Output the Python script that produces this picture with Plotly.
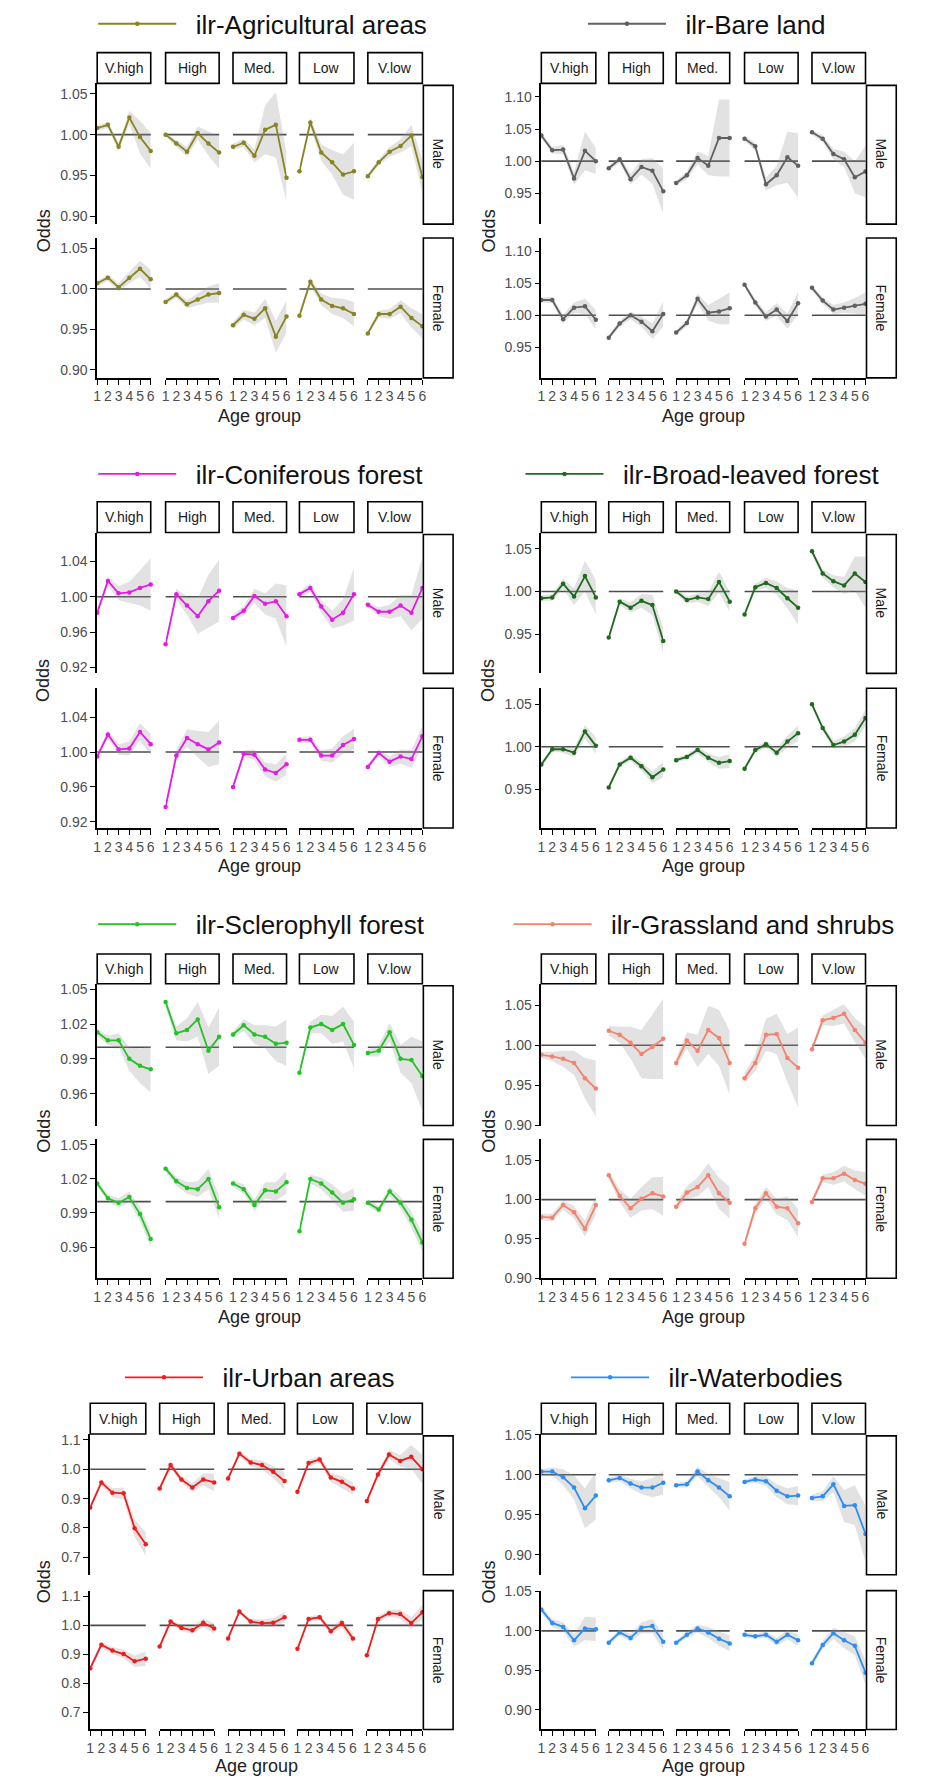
import plotly.graph_objects as go

W, H = 928, 1788
AGE = [1, 2, 3, 4, 5, 6]
AGE_LABELS = ["1", "2", "3", "4", "5", "6"]
LEVELS = ["V.high", "High", "Med.", "Low", "V.low"]
SEXES = ["Male", "Female"]

# ---------------- data (odds per age group, one list per facet) ----------------
agri_male = [[1.008, 1.012, 0.985, 1.021, 0.997, 0.980],
             [1.000, 0.989, 0.979, 1.002, 0.989, 0.978],
             [0.985, 0.990, 0.974, 1.006, 1.012, 0.947],
             [0.955, 1.015, 0.978, 0.966, 0.951, 0.955],
             [0.949, 0.966, 0.979, 0.986, 0.999, 0.948]]
agri_female = [[1.007, 1.014, 1.002, 1.014, 1.025, 1.012],
               [0.984, 0.993, 0.981, 0.987, 0.993, 0.995],
               [0.955, 0.968, 0.963, 0.976, 0.941, 0.966],
               [0.967, 1.009, 0.987, 0.979, 0.976, 0.969],
               [0.945, 0.969, 0.969, 0.978, 0.964, 0.954]]
agri_male_ci = [[0.003, 0.004, 0.005, 0.008, 0.020, 0.022],
                [0.003, 0.004, 0.006, 0.008, 0.015, 0.020],
                [0.004, 0.005, 0.008, 0.030, 0.040, 0.030],
                [0.004, 0.006, 0.010, 0.015, 0.025, 0.035],
                [0.003, 0.004, 0.006, 0.008, 0.013, 0.020]]
agri_female_ci = [[0.003, 0.004, 0.005, 0.007, 0.010, 0.012],
                  [0.003, 0.004, 0.005, 0.007, 0.010, 0.012],
                  [0.004, 0.006, 0.008, 0.012, 0.020, 0.020],
                  [0.004, 0.005, 0.007, 0.010, 0.012, 0.015],
                  [0.003, 0.004, 0.006, 0.008, 0.012, 0.015]]

bare_male = [[1.040, 1.017, 1.018, 0.973, 1.016, 1.000],
             [0.989, 1.003, 0.972, 0.991, 0.985, 0.953],
             [0.966, 0.978, 1.005, 0.993, 1.036, 1.036],
             [1.035, 1.023, 0.964, 0.978, 1.006, 0.993],
             [1.045, 1.035, 1.011, 1.003, 0.975, 0.984]]
bare_female = [[1.024, 1.024, 0.994, 1.012, 1.014, 0.993],
               [0.965, 0.987, 1.000, 0.990, 0.975, 1.002],
               [0.973, 0.988, 1.026, 1.004, 1.006, 1.011],
               [1.048, 1.020, 0.998, 1.009, 0.991, 1.019],
               [1.043, 1.023, 1.009, 1.012, 1.015, 1.018]]
bare_male_ci = [[0.004, 0.005, 0.007, 0.010, 0.030, 0.020],
                [0.004, 0.005, 0.008, 0.012, 0.020, 0.035],
                [0.004, 0.006, 0.010, 0.015, 0.060, 0.060],
                [0.004, 0.006, 0.010, 0.015, 0.040, 0.050],
                [0.004, 0.005, 0.008, 0.012, 0.025, 0.040]]
bare_female_ci = [[0.004, 0.005, 0.007, 0.008, 0.012, 0.015],
                  [0.004, 0.005, 0.006, 0.008, 0.012, 0.020],
                  [0.004, 0.005, 0.008, 0.012, 0.020, 0.025],
                  [0.004, 0.005, 0.007, 0.010, 0.012, 0.018],
                  [0.004, 0.005, 0.007, 0.008, 0.012, 0.018]]

conif_male = [[0.982, 1.018, 1.004, 1.005, 1.010, 1.014],
              [0.946, 1.003, 0.990, 0.978, 0.995, 1.007],
              [0.976, 0.984, 1.001, 0.992, 0.995, 0.978],
              [1.003, 1.010, 0.989, 0.974, 0.982, 1.003],
              [0.991, 0.983, 0.983, 0.990, 0.982, 1.010]]
conif_female = [[0.995, 1.020, 1.003, 1.004, 1.023, 1.009],
                [0.937, 0.996, 1.016, 1.009, 1.003, 1.011],
                [0.960, 0.998, 0.997, 0.980, 0.976, 0.986],
                [1.014, 1.014, 0.996, 0.996, 1.008, 1.015],
                [0.983, 0.999, 0.989, 0.995, 0.992, 1.018]]
conif_male_ci = [[0.003, 0.005, 0.008, 0.012, 0.020, 0.030],
                 [0.004, 0.006, 0.010, 0.020, 0.030, 0.035],
                 [0.004, 0.005, 0.008, 0.012, 0.020, 0.035],
                 [0.003, 0.005, 0.007, 0.010, 0.015, 0.030],
                 [0.003, 0.005, 0.008, 0.012, 0.020, 0.035]]
conif_female_ci = [[0.003, 0.004, 0.006, 0.008, 0.010, 0.012],
                   [0.004, 0.006, 0.010, 0.015, 0.020, 0.025],
                   [0.003, 0.004, 0.006, 0.008, 0.010, 0.012],
                   [0.003, 0.004, 0.006, 0.008, 0.010, 0.012],
                   [0.003, 0.004, 0.006, 0.008, 0.010, 0.012]]

broad_male = [[0.992, 0.993, 1.009, 0.994, 1.018, 0.993],
              [0.946, 0.988, 0.981, 0.989, 0.984, 0.942],
              [1.000, 0.990, 0.993, 0.991, 1.011, 0.988],
              [0.973, 1.005, 1.010, 1.004, 0.992, 0.981],
              [1.047, 1.021, 1.012, 1.007, 1.021, 1.011]]
broad_female = [[0.979, 0.997, 0.997, 0.993, 1.018, 1.001],
                [0.952, 0.979, 0.987, 0.977, 0.964, 0.973],
                [0.984, 0.988, 0.996, 0.987, 0.981, 0.983],
                [0.974, 0.996, 1.003, 0.993, 1.006, 1.016],
                [1.050, 1.022, 1.002, 1.006, 1.014, 1.034]]
broad_male_ci = [[0.003, 0.004, 0.006, 0.010, 0.018, 0.020],
                 [0.003, 0.004, 0.006, 0.008, 0.012, 0.015],
                 [0.003, 0.004, 0.005, 0.008, 0.012, 0.012],
                 [0.003, 0.004, 0.006, 0.008, 0.012, 0.020],
                 [0.004, 0.005, 0.007, 0.010, 0.020, 0.030]]
broad_female_ci = [[0.003, 0.003, 0.004, 0.005, 0.008, 0.010],
                   [0.003, 0.003, 0.004, 0.005, 0.007, 0.009],
                   [0.003, 0.003, 0.004, 0.005, 0.007, 0.008],
                   [0.003, 0.003, 0.004, 0.005, 0.007, 0.009],
                   [0.003, 0.004, 0.005, 0.006, 0.008, 0.010]]

scler_male = [[1.013, 1.006, 1.006, 0.990, 0.984, 0.981],
              [1.039, 1.012, 1.015, 1.024, 0.997, 1.009],
              [1.011, 1.019, 1.011, 1.009, 1.003, 1.004],
              [0.978, 1.017, 1.020, 1.015, 1.020, 1.002],
              [0.995, 0.997, 1.013, 0.990, 0.989, 0.975]]
scler_female = [[1.016, 1.003, 0.999, 1.004, 0.989, 0.967],
                [1.029, 1.018, 1.012, 1.011, 1.020, 0.995],
                [1.016, 1.011, 0.997, 1.010, 1.009, 1.017],
                [0.974, 1.020, 1.016, 1.008, 0.999, 1.002],
                [0.999, 0.993, 1.009, 0.999, 0.984, 0.964]]
scler_male_ci = [[0.003, 0.004, 0.006, 0.010, 0.015, 0.020],
                 [0.004, 0.006, 0.010, 0.015, 0.020, 0.025],
                 [0.003, 0.005, 0.008, 0.010, 0.015, 0.020],
                 [0.003, 0.005, 0.008, 0.012, 0.015, 0.020],
                 [0.003, 0.005, 0.008, 0.012, 0.020, 0.030]]
scler_female_ci = [[0.003, 0.003, 0.004, 0.005, 0.006, 0.007],
                   [0.003, 0.004, 0.005, 0.007, 0.009, 0.010],
                   [0.003, 0.004, 0.005, 0.007, 0.008, 0.010],
                   [0.003, 0.004, 0.005, 0.007, 0.008, 0.010],
                   [0.003, 0.003, 0.004, 0.005, 0.007, 0.008]]

grass_male = [[0.988, 0.986, 0.983, 0.978, 0.959, 0.946],
              [1.018, 1.013, 1.003, 0.989, 0.998, 1.008],
              [0.978, 1.006, 0.993, 1.019, 1.009, 0.978],
              [0.959, 0.978, 1.013, 1.014, 0.984, 0.972],
              [0.995, 1.031, 1.034, 1.039, 1.019, 1.003]]
grass_female = [[0.978, 0.977, 0.993, 0.984, 0.963, 0.993],
                [1.031, 1.005, 0.989, 1.001, 1.008, 1.004],
                [0.991, 1.009, 1.016, 1.031, 1.008, 0.996],
                [0.944, 0.989, 1.008, 0.991, 0.989, 0.970],
                [0.997, 1.027, 1.027, 1.033, 1.025, 1.020]]
grass_male_ci = [[0.004, 0.006, 0.010, 0.015, 0.025, 0.035],
                 [0.006, 0.010, 0.020, 0.030, 0.040, 0.050],
                 [0.006, 0.010, 0.020, 0.030, 0.035, 0.040],
                 [0.006, 0.010, 0.020, 0.025, 0.030, 0.050],
                 [0.004, 0.006, 0.010, 0.012, 0.015, 0.020]]
grass_female_ci = [[0.004, 0.005, 0.006, 0.008, 0.010, 0.012],
                   [0.005, 0.008, 0.012, 0.015, 0.020, 0.025],
                   [0.005, 0.008, 0.012, 0.015, 0.020, 0.020],
                   [0.005, 0.006, 0.008, 0.010, 0.015, 0.018],
                   [0.004, 0.005, 0.008, 0.010, 0.012, 0.015]]

urban_male = [[0.870, 0.955, 0.920, 0.918, 0.799, 0.745],
              [0.934, 1.014, 0.965, 0.938, 0.965, 0.955],
              [0.968, 1.053, 1.023, 1.014, 0.991, 0.960],
              [0.923, 1.021, 1.033, 0.972, 0.957, 0.934],
              [0.892, 0.982, 1.050, 1.028, 1.042, 1.000]]
urban_female = [[0.852, 0.933, 0.913, 0.901, 0.876, 0.885],
                [0.927, 1.013, 0.991, 0.983, 1.009, 0.989],
                [0.955, 1.048, 1.013, 1.008, 1.009, 1.028],
                [0.919, 1.022, 1.028, 0.980, 1.008, 0.955],
                [0.897, 1.022, 1.042, 1.039, 1.008, 1.045]]
urban_male_ci = [[0.010, 0.010, 0.015, 0.020, 0.030, 0.040],
                 [0.008, 0.010, 0.012, 0.015, 0.020, 0.030],
                 [0.008, 0.010, 0.012, 0.015, 0.020, 0.030],
                 [0.008, 0.010, 0.012, 0.015, 0.020, 0.020],
                 [0.008, 0.010, 0.015, 0.020, 0.040, 0.050]]
urban_female_ci = [[0.008, 0.010, 0.012, 0.015, 0.020, 0.025],
                   [0.006, 0.008, 0.010, 0.012, 0.015, 0.018],
                   [0.006, 0.008, 0.010, 0.012, 0.015, 0.018],
                   [0.006, 0.008, 0.010, 0.012, 0.015, 0.018],
                   [0.008, 0.010, 0.012, 0.015, 0.020, 0.025]]

water_male = [[1.004, 1.004, 0.997, 0.984, 0.958, 0.974],
              [0.993, 0.996, 0.989, 0.984, 0.984, 0.990],
              [0.987, 0.988, 1.004, 0.993, 0.984, 0.973],
              [0.991, 0.994, 0.992, 0.980, 0.973, 0.974],
              [0.971, 0.973, 0.988, 0.961, 0.962, 0.926]]
water_female = [[1.027, 1.010, 1.005, 0.988, 1.003, 1.002],
                [0.985, 0.998, 0.991, 1.004, 1.006, 0.986],
                [0.985, 0.995, 1.003, 0.998, 0.990, 0.984],
                [0.995, 0.993, 0.995, 0.986, 0.995, 0.988],
                [0.959, 0.982, 0.997, 0.988, 0.981, 0.947]]
water_male_ci = [[0.003, 0.005, 0.010, 0.015, 0.025, 0.030],
                 [0.003, 0.004, 0.006, 0.008, 0.012, 0.015],
                 [0.003, 0.004, 0.006, 0.008, 0.012, 0.018],
                 [0.003, 0.004, 0.006, 0.008, 0.010, 0.012],
                 [0.004, 0.006, 0.010, 0.020, 0.025, 0.035]]
water_female_ci = [[0.004, 0.005, 0.006, 0.008, 0.015, 0.015],
                   [0.003, 0.004, 0.005, 0.007, 0.009, 0.010],
                   [0.003, 0.004, 0.005, 0.007, 0.009, 0.010],
                   [0.003, 0.003, 0.004, 0.005, 0.006, 0.007],
                   [0.004, 0.005, 0.007, 0.010, 0.012, 0.015]]

PANEL_NAMES = ["ilr-Agricultural areas", "ilr-Bare land", "ilr-Coniferous forest",
               "ilr-Broad-leaved forest", "ilr-Sclerophyll forest",
               "ilr-Grassland and shrubs", "ilr-Urban areas", "ilr-Waterbodies"]
PANEL_DATA = [(agri_male, agri_female, agri_male_ci, agri_female_ci),
              (bare_male, bare_female, bare_male_ci, bare_female_ci),
              (conif_male, conif_female, conif_male_ci, conif_female_ci),
              (broad_male, broad_female, broad_male_ci, broad_female_ci),
              (scler_male, scler_female, scler_male_ci, scler_female_ci),
              (grass_male, grass_female, grass_male_ci, grass_female_ci),
              (urban_male, urban_female, urban_male_ci, urban_female_ci),
              (water_male, water_female, water_male_ci, water_female_ci)]
Y_TICKS = [[0.90, 0.95, 1.00, 1.05], [0.95, 1.00, 1.05, 1.10], [0.92, 0.96, 1.00, 1.04],
           [0.95, 1.00, 1.05], [0.96, 0.99, 1.02, 1.05], [0.90, 0.95, 1.00, 1.05],
           [0.7, 0.8, 0.9, 1.0, 1.1], [0.90, 0.95, 1.00, 1.05]]

# ---------------- styles / layout geometry ----------------
COLORS = ["#8a8420", "#606060", "#e619e6", "#1e6b1e", "#22c322", "#f4826c", "#f01c1c", "#2b8ef0"]
Y_RANGES = [(0.890, 1.063), (0.902, 1.121), (0.913, 1.073), (0.904, 1.069),
            (0.9325, 1.0548), (0.900, 1.0765), (0.641, 1.12), (0.875, 1.051)]
TICK_FMT = [".2f"] * 6 + [".1f", ".2f"]

COLS_L = ([94, 163, 231, 298, 367], [148, 217, 285, 353, 422])
COLS_R = ([542, 610, 678, 747, 815], [597, 665, 732, 801, 869])
COLS_U = ([87, 157, 226, 296, 366], [143, 212, 283, 352, 422])
PANEL_COLS = [COLS_L, COLS_R, COLS_L, COLS_R, COLS_L, COLS_R, COLS_U, COLS_R]
ROWS = [dict(strip=46, male=(77, 219), female=(233, 374), legend=17, age=412),
        dict(strip=499, male=(530, 672), female=(687, 828), legend=471, age=866),
        dict(strip=955, male=(985, 1128), female=(1142, 1282), legend=925, age=1321),
        dict(strip=1408, male=(1439, 1581), female=(1597, 1737), legend=1382, age=1774)]
LEGEND_X = [95, 589, 95, 526, 95, 514, 122, 572]
ODDS_X = [40, 489]

FONT = "Liberation Sans, Arial, sans-serif"
AX_COL = "#000000"
TICK_COL = "#4d4d4d"


def px(x):
    return x / W


def py(y):
    return 1 - y / H


fig = go.Figure()
layout = {}
shapes = []
annotations = []
n = 0
for p in range(8):
    row = ROWS[p // 2]
    lefts, rights = PANEL_COLS[p]
    males, females, male_ci, female_ci = PANEL_DATA[p]
    color = COLORS[p]
    yr = Y_RANGES[p]
    leg_name = "legend" if p == 0 else f"legend{p + 1}"
    for s, sex in enumerate(SEXES):
        top, bot = row["male"] if s == 0 else row["female"]
        vals_rows = males if s == 0 else females
        ci_rows = male_ci if s == 0 else female_ci
        for c in range(5):
            n += 1
            xname = "xaxis" if n == 1 else f"xaxis{n}"
            yname = "yaxis" if n == 1 else f"yaxis{n}"
            xr = "x" if n == 1 else f"x{n}"
            yrf = "y" if n == 1 else f"y{n}"
            bottom_row = (s == 1)
            layout[xname] = dict(
                domain=[px(lefts[c]), px(rights[c])], anchor=yrf, range=[1, 6],
                showgrid=False, zeroline=False, fixedrange=True,
                showline=bottom_row, linecolor=AX_COL, linewidth=1.6,
                ticks="outside" if bottom_row else "", ticklen=5, tickwidth=1.4, tickcolor=AX_COL,
                tickvals=AGE, ticktext=AGE_LABELS, showticklabels=bottom_row,
                tickfont=dict(family=FONT, size=14, color=TICK_COL))
            first = (c == 0)
            layout[yname] = dict(
                domain=[py(bot), py(top)], anchor=xr, range=list(yr),
                showgrid=False, zeroline=False, fixedrange=True,
                showline=first, linecolor=AX_COL, linewidth=1.6,
                ticks="outside" if first else "", ticklen=5, tickwidth=1.4, tickcolor=AX_COL,
                tickvals=Y_TICKS[p], tickformat=TICK_FMT[p], showticklabels=first,
                tickfont=dict(family=FONT, size=14, color=TICK_COL))
            vals = vals_rows[c]
            ci = ci_rows[c]
            hi = [v + h for v, h in zip(vals, ci)]
            lo = [v - h for v, h in zip(vals, ci)]
            fig.add_trace(go.Scatter(
                x=AGE + AGE[::-1], y=hi + lo[::-1], xaxis=xr, yaxis=yrf,
                fill="toself", fillcolor="rgba(150,150,150,0.28)", line=dict(width=0),
                mode="lines", hoverinfo="skip", showlegend=False))
            fig.add_trace(go.Scatter(
                x=AGE, y=vals, xaxis=xr, yaxis=yrf, mode="lines+markers",
                line=dict(color=color, width=1.8), marker=dict(color=color, size=4.5),
                name="\u00a0\u00a0" + PANEL_NAMES[p], legend=leg_name,
                showlegend=(s == 0 and c == 0), cliponaxis=False))
            # reference line at odds = 1
            shapes.append(dict(type="line", xref=f"{xr} domain", x0=0, x1=1, yref=yrf,
                               y0=1, y1=1, line=dict(color="#4d4d4d", width=1.6), layer="below"))
            if s == 0:
                shapes.append(dict(type="rect", xref="paper", yref="paper",
                                   x0=px(lefts[c]), x1=px(rights[c]),
                                   y0=py(row["male"][0]), y1=py(row["strip"]),
                                   line=dict(color="#000", width=1.6), fillcolor="white"))
                annotations.append(dict(x=px((lefts[c] + rights[c]) / 2),
                                        y=py((row["strip"] + row["male"][0]) / 2),
                                        xref="paper", yref="paper", text=LEVELS[c],
                                        showarrow=False, xanchor="center", yanchor="middle",
                                        font=dict(family=FONT, size=14, color="#1a1a1a")))
        # right strip
        sx0 = rights[4] + 1
        shapes.append(dict(type="rect", xref="paper", yref="paper", x0=px(sx0), x1=px(sx0 + 30),
                           y0=py(bot), y1=py(top + (2 if s == 0 else 0)),
                           line=dict(color="#000", width=1.6), fillcolor="white"))
        annotations.append(dict(x=px(sx0 + 15), y=py((top + bot) / 2), xref="paper", yref="paper",
                                text=sex, textangle=90, showarrow=False,
                                xanchor="center", yanchor="middle",
                                font=dict(family=FONT, size=14, color="#1a1a1a")))
    # axis titles
    annotations.append(dict(x=px((lefts[0] + rights[4]) / 2), y=py(row["age"]), xref="paper",
                            yref="paper", text="Age group", showarrow=False,
                            xanchor="center", yanchor="middle",
                            font=dict(family=FONT, size=18, color="#222")))
    annotations.append(dict(x=px(ODDS_X[p % 2]), y=py((row["male"][0] + row["female"][1]) / 2),
                            xref="paper", yref="paper", text="Odds", textangle=-90,
                            showarrow=False, xanchor="center", yanchor="middle",
                            font=dict(family=FONT, size=18, color="#222")))
    layout[leg_name] = dict(x=px(LEGEND_X[p] - 5), y=py(row["legend"]), xanchor="left",
                            yanchor="middle", xref="paper", yref="paper",
                            bgcolor="rgba(0,0,0,0)", borderwidth=0, itemwidth=78,
                            font=dict(family=FONT, size=26, color="#111"))

fig.update_layout(**layout)
fig.update_layout(width=W, height=H, autosize=False, margin=dict(l=0, r=0, t=0, b=0),
                  paper_bgcolor="white", plot_bgcolor="white", shapes=shapes,
                  annotations=annotations, font=dict(family=FONT))
fig.write_html("out.html", config={"displayModeBar": False},
               post_script="document.body.style.margin='0px';")
